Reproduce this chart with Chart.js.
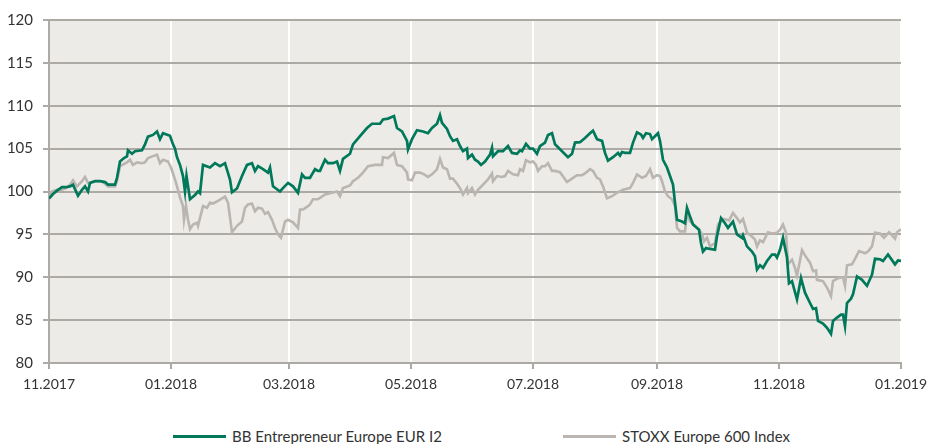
<!DOCTYPE html>
<html>
<head>
<meta charset="utf-8">
<script src="https://cdn.jsdelivr.net/npm/chart.js@4.4.1/dist/chart.umd.min.js"></script>
<style>
    body { margin: 0; background: #fff; font-family: Lato, "Open Sans", sans-serif; }
    #wrap { position: relative; width: 927px; height: 444px; }
    #chartBox { position: absolute; left: 0; top: 0; width: 927px; height: 405px; }
    #legend { position: absolute; left: 173px; top: 427px; display: flex; align-items: center; font-size: 15px; color: #333; }
    .item { display: flex; align-items: center; }
    .item .line { width: 53px; height: 3px; margin-right: 6px; }
</style>
</head>
<body>
<div id="wrap">
    <div id="chartBox"><canvas id="perfChart"></canvas></div>
    <div id="legend"></div>
</div>
<script>
// Séries (jours depuis le 01.11.2017, valeur indexée base 100)
const fundName = 'BB Entrepreneur Europe EUR I2';
const indexName = 'STOXX Europe 600 Index';

const fundDays = [0, 0.5, 2, 4, 6.5, 8.5, 10.5, 12, 14.5, 16.5, 18, 19.5, 20.5, 23, 25.5, 28, 29.5, 33, 34, 35.5,
    37.5, 39, 39.5, 41.5, 43, 46.5, 48, 49.5, 52, 54, 55.5, 57, 60.5, 62, 63, 64, 65.5, 67, 68, 68.75,
    70.5, 73, 74.5, 75.5, 77, 80.5, 83, 85.5, 88, 90.5, 91.5, 94, 96.5, 99, 101.5, 103, 104.5, 107, 109.5, 110.5,
    112, 115.5, 117, 119.5, 122, 124.5, 126.5, 128, 130.5, 131.5, 133, 134.5, 135.5, 138, 139.5, 142, 144, 145.5, 147, 150.5,
    152, 155.5, 159, 161.5, 165.5, 167, 169.5, 172.5, 174, 176.5, 179, 179.5, 181.5, 184, 187, 189.5, 191.5, 194, 195.5, 196.5,
    199, 200.5, 202, 204, 205.5, 207, 209, 209.5, 211.5, 213, 214.5, 216, 218, 220.5, 221.5, 222, 224.5, 227, 229.5, 231.5,
    234, 235.5, 236.5, 238.5, 240.5, 242, 244, 245.5, 248, 249.5, 251.5, 253, 256.5, 259.5, 261.5, 263, 265.5, 268, 270.5, 272,
    274, 276.5, 278, 279.5, 282, 284.5, 285.5, 286.5, 288, 290.5, 292, 294, 296, 297, 298.5, 300.5, 301.5, 303, 304.5, 305.5,
    307, 309, 310.5, 312, 313, 314, 316.5, 318, 319, 320.5, 322, 324, 325, 326, 327, 328.5, 330.5, 333, 334, 336,
    338, 339.5, 342, 344, 346.5, 347, 349, 351.5, 353, 354, 355.5, 357, 359, 361.5, 363, 364, 365.5, 367, 369, 370,
    371.5, 374, 376, 378, 380.5, 382, 383.5, 384.5, 387, 389, 391, 392, 394, 396, 397, 398, 399, 401, 402, 404,
    406.5, 409, 411.5, 413, 415.5, 417, 419.5, 423, 424.5, 426];
const fundValues = [99.2, 99.3, 99.7, 100.1, 100.5, 100.5, 100.6, 100.8, 99.5, 100.2, 100.6, 100.0, 101.0, 101.2, 101.2, 101.1, 100.8, 100.8, 101.6, 103.5,
    103.9, 104.1, 104.8, 104.4, 104.7, 104.8, 105.5, 106.4, 106.6, 107.0, 106.1, 106.8, 106.5, 105.5, 105.0, 104.0, 103.1, 101.8, 100.0, 101.8,
    99.1, 99.6, 100.0, 99.8, 103.1, 102.8, 103.3, 102.95, 103.3, 101.4, 99.9, 100.35, 101.8, 103.1, 103.3, 102.4, 102.95, 102.6, 102.2, 102.8,
    100.6, 100.0, 100.4, 101.0, 100.6, 99.85, 102.0, 101.6, 101.6, 102.0, 102.6, 102.4, 102.4, 103.7, 103.3, 103.3, 103.5, 102.4, 103.8, 104.4,
    105.5, 106.45, 107.4, 107.9, 107.9, 108.4, 108.5, 108.8, 107.4, 107.0, 105.9, 104.9, 106.1, 107.15, 107.0, 106.8, 107.4, 107.9, 108.9, 108.0,
    107.3, 106.45, 105.9, 106.1, 105.3, 104.7, 105.0, 103.9, 104.3, 103.7, 103.5, 103.1, 103.5, 104.3, 105.1, 104.1, 104.7, 104.7, 105.3, 104.5,
    104.4, 104.8, 104.7, 105.55, 105.0, 105.0, 104.4, 105.3, 105.7, 106.6, 106.8, 105.5, 104.7, 104.0, 104.4, 105.7, 105.75, 106.25, 106.8, 107.1,
    106.1, 105.9, 104.5, 103.6, 104.0, 104.5, 104.2, 104.6, 104.5, 104.5, 105.7, 106.9, 106.65, 106.25, 106.8, 106.7, 106.1, 106.45, 106.8, 105.9,
    103.7, 102.8, 101.8, 100.8, 98.7, 96.7, 96.5, 96.3, 98.1, 97.1, 96.15, 95.75, 95.55, 94.0, 93.0, 93.4, 93.3, 93.2, 94.8, 96.9,
    96.3, 95.75, 96.5, 95.0, 94.6, 94.9, 93.6, 93.0, 92.45, 90.9, 91.4, 91.1, 91.9, 92.65, 92.65, 92.3, 93.2, 94.6, 92.3, 89.3,
    89.55, 87.4, 89.9, 88.2, 87.0, 86.3, 86.4, 84.9, 84.6, 84.1, 83.4, 84.9, 85.3, 85.65, 85.65, 84.3, 87.0, 87.5, 88.0, 90.1,
    89.7, 89.0, 90.3, 92.15, 92.1, 91.9, 92.65, 91.5, 91.95, 91.9];

const indexDays = [0, 0.5, 1.5, 4, 6.5, 8.5, 10.5, 12, 14, 16.5, 18, 19.5, 23, 26.5, 28, 29.5, 33, 34, 35.5, 39,
    40.5, 42, 44, 46.5, 48, 49.5, 54, 55.5, 57, 59.5, 61, 63, 64.5, 65.5, 67, 67.5, 68.5, 69.5, 70.5, 72,
    74, 74.5, 77, 79, 80.5, 82, 84.5, 88, 89.5, 91.5, 94, 96.5, 98, 99.5, 101.5, 103, 104.5, 106.5, 108, 109.5,
    111.5, 113, 114.5, 116, 118, 119.5, 122, 124.5, 125.5, 127, 129, 130.5, 132, 134.5, 138, 140.5, 144, 145.5, 147, 150.5,
    152, 154.5, 157, 159.5, 163, 166.5, 167, 169.5, 172.5, 174, 176.5, 179, 179.5, 181.5, 183, 185.5, 187.5, 189.5, 191.5, 194,
    195.5, 197, 199, 200.5, 202, 204, 205.5, 207, 209, 209.5, 211.5, 213, 214.5, 217, 219.5, 221.5, 222, 224, 226.5, 228,
    229.5, 232, 234.5, 235.5, 237, 238.5, 240.5, 242, 243.5, 244.5, 246.5, 248, 249.5, 251.5, 253, 255.5, 259, 261.5, 264, 266.5,
    268, 270.5, 272, 274, 275.5, 277, 279, 281.5, 284, 287, 290.5, 292, 294, 296.5, 298.5, 300.5, 302, 304, 305.5, 306.5,
    308, 309.5, 311.5, 313, 314, 315.5, 318, 319, 320.5, 323, 325, 326.5, 327.5, 329, 330.5, 333, 334.5, 337, 339, 340,
    342, 344, 345.5, 347, 349, 351.5, 353, 354, 355.5, 357, 359.5, 361.5, 364, 365.5, 367, 368.5, 369.5, 371.5, 373, 374,
    376.5, 378, 380.5, 382, 383.5, 384, 387, 389, 391, 392, 394.5, 397, 398, 399, 401.5, 403, 405, 408, 409.5, 411.5,
    413, 415.5, 417.5, 420, 423, 424, 426];
const indexValues = [99.4, 99.5, 100.0, 100.2, 100.2, 100.4, 100.8, 101.3, 100.6, 101.2, 101.7, 101.0, 101.2, 101.2, 100.9, 100.6, 100.6, 101.2, 102.95, 103.4,
    103.7, 103.1, 103.4, 103.3, 103.4, 103.9, 104.3, 103.3, 103.7, 103.5, 102.8, 101.4, 100.2, 99.3, 98.3, 96.7, 98.3, 96.7, 95.6, 96.15,
    96.35, 96.0, 98.3, 98.1, 98.7, 98.6, 98.9, 99.4, 98.7, 95.25, 96.0, 96.5, 98.1, 98.5, 98.6, 97.7, 98.1, 98.0, 97.4, 97.6,
    96.7, 95.75, 95.0, 94.6, 96.5, 96.7, 96.4, 95.75, 97.9, 97.9, 98.2, 98.5, 99.1, 99.1, 99.65, 99.8, 100.0, 99.45, 100.4, 100.7,
    101.2, 101.6, 102.2, 102.95, 103.1, 103.1, 104.0, 103.9, 104.5, 103.1, 102.95, 102.2, 101.4, 101.3, 102.2, 102.2, 102.0, 101.7, 102.0, 102.6,
    103.8, 102.8, 102.6, 101.5, 101.5, 100.9, 100.4, 99.65, 100.4, 99.8, 100.4, 99.65, 100.2, 100.8, 101.4, 102.1, 101.2, 101.8, 101.7, 101.8,
    102.4, 102.0, 101.9, 102.6, 102.4, 103.65, 103.4, 103.5, 103.1, 102.4, 102.95, 102.95, 103.3, 102.4, 102.4, 102.25, 101.1, 101.5, 101.9, 101.9,
    102.1, 102.6, 102.4, 101.6, 101.4, 100.6, 99.2, 99.45, 99.85, 100.2, 100.4, 101.0, 102.0, 101.6, 101.8, 102.6, 101.6, 101.9, 101.8, 101.2,
    100.0, 99.45, 99.1, 98.3, 95.75, 95.35, 95.35, 97.5, 96.5, 96.0, 95.55, 95.0, 94.2, 94.6, 93.6, 94.0, 96.15, 96.8, 96.7, 96.6,
    97.5, 96.9, 96.4, 96.8, 95.2, 94.75, 94.4, 93.6, 94.3, 94.1, 95.25, 95.1, 95.2, 95.55, 96.15, 95.2, 91.5, 92.05, 91.1, 90.2,
    93.15, 92.55, 91.7, 90.7, 90.8, 89.7, 89.55, 88.8, 87.8, 89.55, 89.9, 90.0, 89.0, 91.4, 91.5, 92.15, 93.05, 92.8, 93.0, 93.6,
    95.2, 95.1, 94.6, 95.25, 94.5, 95.25, 95.6];

// Axe des temps
const tickDays = [0, 61, 120, 181, 242, 304, 365, 426];
const tickLabels = ['11.2017', '01.2018', '03.2018', '05.2018', '07.2018', '09.2018', '11.2018', '01.2019'];

const fundColor = '#00785a';
const indexColor = '#bab5b0';
const axisGrey = '#adaaa6';

function toPoints(days, values) {
    return days.map((d, i) => ({ x: d, y: values[i] }));
}

// Fond gris de la zone de tracé
const plotBackground = {
    id: 'plotBackground',
    beforeDraw(chart) {
        const { ctx, chartArea } = chart;
        ctx.save();
        ctx.fillStyle = '#ecebe7';
        ctx.fillRect(chartArea.left, chartArea.top, chartArea.right - chartArea.left, chartArea.bottom - chartArea.top);
        ctx.restore();
    }
};

const chart = new Chart(document.getElementById('perfChart'), {
    type: 'line',
    data: {
        datasets: [{
            label: fundName,
            data: toPoints(fundDays, fundValues),
            borderColor: fundColor,
            borderWidth: 2.7,
            pointRadius: 0,
            tension: 0
        }, {
            label: indexName,
            data: toPoints(indexDays, indexValues),
            borderColor: indexColor,
            borderWidth: 2.6,
            pointRadius: 0,
            tension: 0
        }]
    },
    options: {
        responsive: true,
        maintainAspectRatio: false,
        animation: false,
        layout: { padding: { top: 20, right: 26, left: 0, bottom: 0 } },
        plugins: {
            legend: { display: false },
            tooltip: { enabled: false }
        },
        scales: {
            x: {
                type: 'linear',
                min: 0,
                max: 426,
                afterBuildTicks: (axis) => { axis.ticks = tickDays.map(v => ({ value: v })); },
                afterFit: (axis) => {
                    axis.height = 42;
                    axis.paddingLeft = 0;
                    axis.paddingRight = 0;
                },
                ticks: {
                    autoSkip: false,
                    maxRotation: 0,
                    padding: 7,
                    color: '#333',
                    font: { family: 'Lato', size: 14 },
                    callback: (value) => tickLabels[tickDays.indexOf(value)] || ''
                },
                grid: {
                    color: (c) => (c.index === 0 ? axisGrey : '#ffffff'),
                    lineWidth: 2,
                    tickColor: axisGrey,
                    tickLength: 6,
                    drawOnChartArea: true
                },
                border: { color: axisGrey, width: 2 }
            },
            y: {
                min: 80,
                max: 120,
                afterFit: (axis) => { axis.width = 49; },
                ticks: {
                    stepSize: 5,
                    padding: 10,
                    color: '#333',
                    font: { family: 'Lato', size: 15 }
                },
                grid: {
                    color: axisGrey,
                    lineWidth: 2,
                    tickLength: 6
                },
                border: { color: axisGrey, width: 2 }
            }
        }
    },
    plugins: [plotBackground]
});

// Légende HTML
const legendBox = document.getElementById('legend');
chart.data.datasets.forEach((ds, i) => {
    const item = document.createElement('div');
    item.className = 'item';
    if (i === 0) item.style.width = '390px';
    const line = document.createElement('span');
    line.className = 'line';
    line.style.background = ds.borderColor;
    const label = document.createElement('span');
    label.textContent = ds.label;
    item.appendChild(line);
    item.appendChild(label);
    legendBox.appendChild(item);
});
</script>
</body>
</html>
